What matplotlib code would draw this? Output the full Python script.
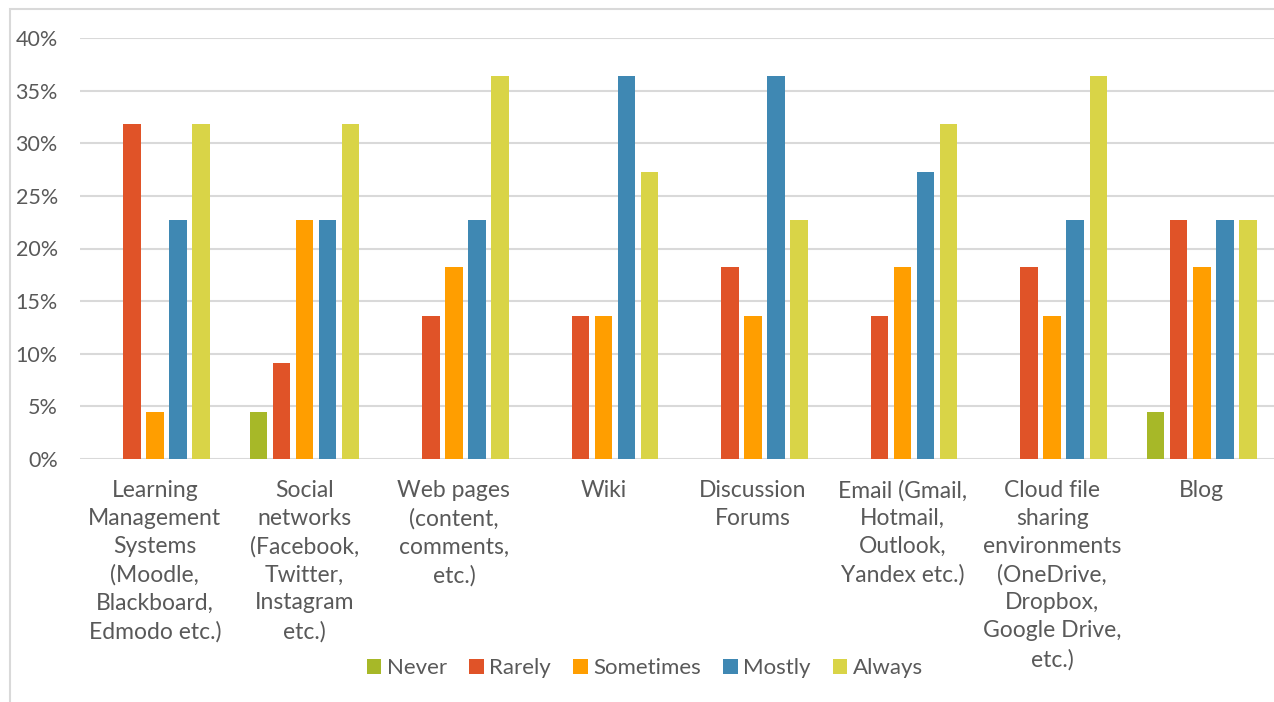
import numpy as np
import matplotlib
matplotlib.use("Agg")
import matplotlib.pyplot as plt
from matplotlib.patches import Rectangle
from matplotlib.ticker import FuncFormatter

categories = [
    "Learning\nManagement\nSystems\n(Moodle,\nBlackboard,\nEdmodo etc.)",
    "Social\nnetworks\n(Facebook,\nTwitter,\nInstagram\netc.)",
    "Web pages\n(content,\ncomments,\netc.)",
    "Wiki",
    "Discussion\nForums",
    "Email (Gmail,\nHotmail,\nOutlook,\nYandex etc.)",
    "Cloud file\nsharing\nenvironments\n(OneDrive,\nDropbox,\nGoogle Drive,\netc.)",
    "Blog",
]
series_names = ["Never", "Rarely", "Sometimes", "Mostly", "Always"]
never = [0.0, 4.5, 0.0, 0.0, 0.0, 0.0, 0.0, 4.5]
rarely = [31.8, 9.1, 13.6, 13.6, 18.2, 13.6, 18.2, 22.7]
sometimes = [4.5, 22.7, 18.2, 13.6, 13.6, 18.2, 13.6, 18.2]
mostly = [22.7, 22.7, 22.7, 36.4, 36.4, 27.3, 22.7, 22.7]
always = [31.8, 31.8, 36.4, 27.3, 22.7, 31.8, 36.4, 22.7]
colors = ["#a7b828", "#e05328", "#ff9e00", "#3f88b3", "#d9d447"]

plt.rcParams['font.family'] = ['Lato', 'DejaVu Sans']
text_col = "#595959"

fig = plt.figure(figsize=(12.74, 7.02), dpi=100)
ax = fig.add_axes([80 / 1274, 1 - 459 / 702, 1 - 80 / 1274 + 0.002, 421 / 702])

x = np.arange(len(categories))
pitch = 0.154
width = 0.117
data = [never, rarely, sometimes, mostly, always]
for i, (name, vals) in enumerate(zip(series_names, data)):
    ax.bar(x + (i - 2) * pitch, vals, width, color=colors[i], label=name, zorder=3)

ax.set_xlim(-0.5, len(categories) - 0.5)
ax.set_ylim(0, 40)
ax.set_yticks(np.arange(0, 41, 5))
ax.yaxis.set_major_formatter(FuncFormatter(lambda v, p: f"{v:.0f}%"))
ax.grid(axis='y', color="#d9d9d9", lw=1.5, zorder=0)
ax.set_xticks(x)
ax.set_xticklabels(categories, fontsize=16.5, color=text_col, linespacing=1.41, va='top')
ax.tick_params(axis='y', length=0, pad=16, labelsize=15.5, labelcolor=text_col)
ax.tick_params(axis='x', length=0, pad=15)
for s in ax.spines.values():
    s.set_visible(False)

leg = fig.legend(loc='center', bbox_to_anchor=(645 / 1274, 1 - 668 / 702), ncol=5,
                 frameon=False, fontsize=16, handlelength=0.65, handleheight=0.65,
                 handletextpad=0.25, columnspacing=1.0)
for t in leg.get_texts():
    t.set_color(text_col)

fig.patches.append(Rectangle((10 / 1274, -0.1), 1.2, 1.1 - 9 / 702, transform=fig.transFigure,
                             fill=False, edgecolor="#d9d9d9", lw=1.5, zorder=0))

fig.savefig("out.png", dpi=100)
